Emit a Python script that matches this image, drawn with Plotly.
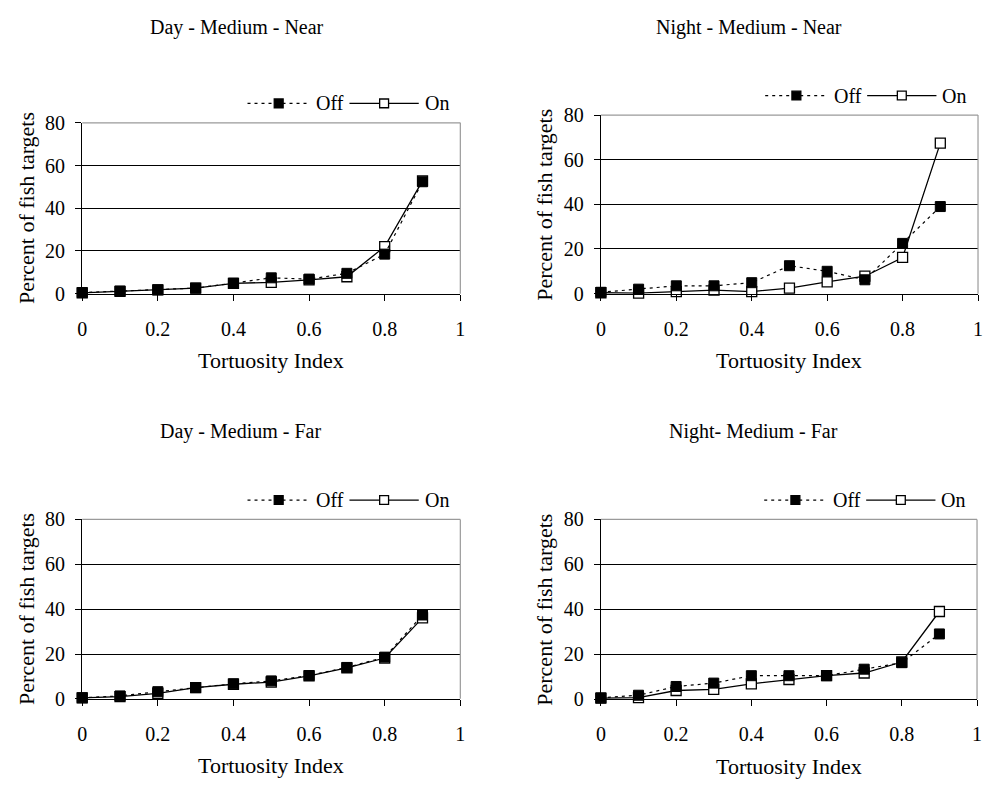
import plotly.graph_objects as go

# Tortuosity index bins
tortuosity = [0, 0.1, 0.2, 0.3, 0.4, 0.5, 0.6, 0.7, 0.8, 0.9]

# Percent of fish targets per panel, light Off / On
day_near_off = [0.5, 1.2, 1.8, 2.6, 4.9, 7.4, 6.8, 9.5, 18.5, 52.4]
day_near_on = [0.4, 1.1, 1.8, 2.6, 4.8, 5.3, 6.4, 7.9, 22.0, 52.8]

night_near_off = [0.6, 2.0, 3.5, 3.5, 4.9, 12.5, 10.0, 6.2, 22.5, 39.0]
night_near_on = [0.4, 0.2, 0.9, 1.6, 0.9, 2.5, 5.3, 7.8, 16.2, 67.4]

day_far_off = [0.5, 1.3, 3.2, 5.0, 6.7, 8.0, 10.4, 14.0, 18.6, 37.4]
day_far_on = [0.4, 1.0, 2.4, 5.0, 6.5, 7.5, 10.2, 13.8, 18.2, 36.1]

night_far_off = [0.5, 1.7, 5.6, 7.1, 10.4, 10.4, 10.4, 13.3, 16.2, 29.0]
night_far_on = [0.4, 0.6, 3.8, 4.3, 6.8, 8.7, 10.4, 11.6, 16.5, 39.0]

panel_titles = ["Day - Medium - Near", "Night - Medium - Near",
                "Day - Medium - Far", "Night- Medium - Far"]
x_title = "Tortuosity Index"
y_title = "Percent of fish targets"
series_names = ["Off", "On"]

panels = [
    (day_near_off, day_near_on),
    (night_near_off, night_near_on),
    (day_far_off, day_far_on),
    (night_far_off, night_far_on),
]

W, H = 985, 792
FONT = "Liberation Serif"
OFF_DASH = "3px,4px"


def px(x):
    return x / W


def py(y):
    return 1 - y / H


# plot-area boxes in pixels: left, right, top, bottom
boxes = [
    (78, 460, 115, 290.7),
    (602, 983, 107, 290.7),
    (78, 460, 523, 707.5),
    (602, 982, 523, 707.7),
]
title_pos = [(234, 17), (752, 17), (238, 433), (756, 433)]

fig = go.Figure()
annotations = []
shapes = []


def legend_key(r, y, x0, x1, dash, fill, label):
    """Line sample with a square marker and its label, placed above a panel."""
    shapes.append(dict(type="line", xref="paper", yref="paper",
                       x0=px(r + x0), x1=px(r + x1), y0=py(y), y1=py(y),
                       line=dict(color="black", width=1.3, dash=dash)))
    cx = r + (x0 + x1) / 2
    shapes.append(dict(type="rect", xref="paper", yref="paper",
                       x0=px(cx - 4.5), x1=px(cx + 4.5),
                       y0=py(y - 4.5), y1=py(y + 4.5),
                       fillcolor=fill, line=dict(color="black", width=1.3)))
    annotations.append(dict(text=label, x=px(r + x1 + 4), y=py(y),
                            xref="paper", yref="paper", showarrow=False,
                            xanchor="left", yanchor="middle",
                            font=dict(family=FONT, size=20, color="black")))


for i, ((off, on), (l, r, t, b)) in enumerate(zip(panels, boxes)):
    n = "" if i == 0 else str(i + 1)
    xa, ya = "x" + n, "y" + n

    fig.add_trace(go.Scatter(
        x=tortuosity, y=on, name=series_names[1], mode="lines+markers",
        xaxis=xa, yaxis=ya, showlegend=False, cliponaxis=False,
        line=dict(color="black", width=1.3),
        marker=dict(symbol="square", size=10, color="white",
                    line=dict(color="black", width=1.3)),
    ))
    fig.add_trace(go.Scatter(
        x=tortuosity, y=off, name=series_names[0], mode="lines+markers",
        xaxis=xa, yaxis=ya, showlegend=False, cliponaxis=False,
        line=dict(color="black", width=1.2, dash=OFF_DASH),
        marker=dict(symbol="square", size=10, color="black",
                    line=dict(color="black", width=1)),
    ))

    axis_common = dict(showline=True, linecolor="black", linewidth=1.2,
                       ticks="outside", ticklen=6, tickcolor="black",
                       tickfont=dict(family=FONT, size=20, color="black"),
                       zeroline=False)
    fig.update_layout({
        "xaxis" + n: dict(domain=[px(l), px(r)], anchor=ya, range=[0, 1],
                          dtick=0.2, tick0=0, showgrid=False,
                          ticklabelstandoff=11, **axis_common),
        "yaxis" + n: dict(domain=[py(b), py(t)], anchor=xa, range=[0, 80],
                          dtick=20, tick0=0, showgrid=True,
                          gridcolor="black", gridwidth=1,
                          ticklabelstandoff=6, **axis_common),
    })

    # grey frame on the top and right of each plot area
    shapes.append(dict(type="line", xref=xa + " domain", yref=ya + " domain",
                       x0=0, x1=1, y0=1, y1=1, layer="above",
                       line=dict(color="#9a9a9a", width=1.2)))
    shapes.append(dict(type="line", xref=xa + " domain", yref=ya + " domain",
                       x0=1, x1=1, y0=0, y1=1, layer="above",
                       line=dict(color="#9a9a9a", width=1.2)))

    # legend row above the plot area
    ly = t - 20
    legend_key(r, ly, -215, -152, OFF_DASH, "black", series_names[0])
    legend_key(r, ly, -112, -42, "solid", "white", series_names[1])

    tx, ty = title_pos[i]
    annotations.append(dict(text=panel_titles[i], x=px(tx), y=py(ty),
                            xref="paper", yref="paper", showarrow=False,
                            xanchor="center", yanchor="middle",
                            font=dict(family=FONT, size=20, color="black")))
    annotations.append(dict(text=x_title, x=px((l + r) / 2), y=py(b + 69),
                            xref="paper", yref="paper", showarrow=False,
                            xanchor="center", yanchor="middle",
                            font=dict(family=FONT, size=22, color="black")))
    annotations.append(dict(text=y_title, x=px(l - 57), y=py((t + b) / 2),
                            xref="paper", yref="paper", showarrow=False,
                            textangle=-90, xanchor="center", yanchor="middle",
                            font=dict(family=FONT, size=22, color="black")))

fig.update_layout(
    width=W, height=H, margin=dict(l=0, r=0, t=0, b=0),
    paper_bgcolor="white", plot_bgcolor="white",
    font=dict(family=FONT, color="black"),
    annotations=annotations, shapes=shapes,
)

fig.write_html("out.html")
